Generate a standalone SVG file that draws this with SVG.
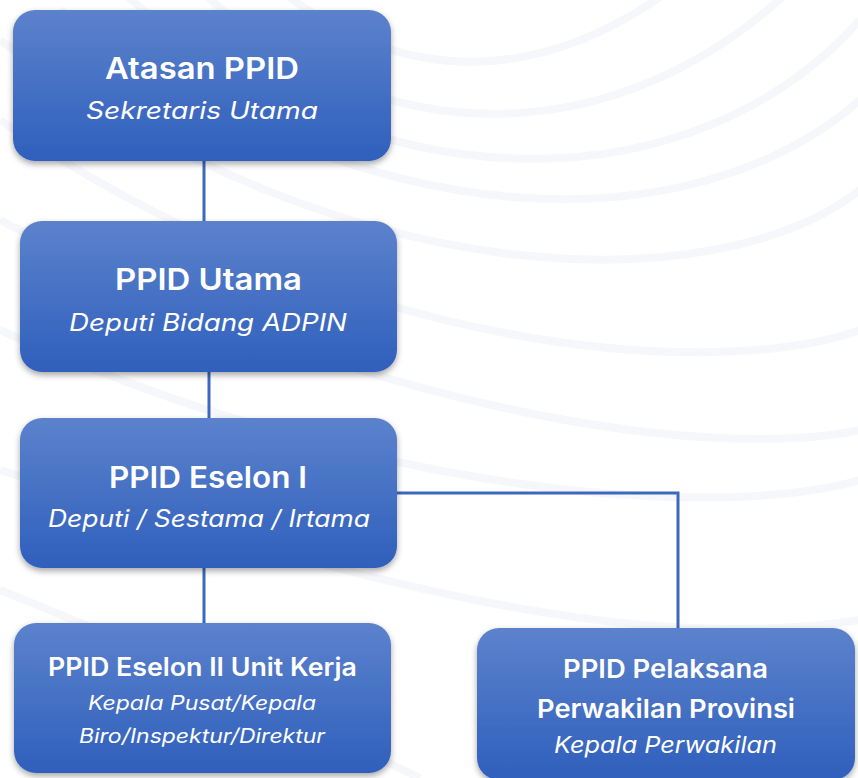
<svg xmlns="http://www.w3.org/2000/svg" width="858" height="778" viewBox="0 0 858 778">
<defs>
<linearGradient id="boxGrad" x1="0" y1="0" x2="0" y2="1">
<stop offset="0" stop-color="#5c82cc"/>
<stop offset="1" stop-color="#2f5fbc"/>
</linearGradient>
<filter id="shadow" x="-10%" y="-10%" width="120%" height="130%">
<feDropShadow dx="0" dy="3" stdDeviation="3" flood-color="#000" flood-opacity="0.35"/>
</filter>
<style>
.box{fill:url(#boxGrad);filter:url(#shadow);}
.title{font-family:Inter,"Open Sans","Liberation Sans",sans-serif;font-weight:600;fill:#fff;text-anchor:middle;}
.sub{font-family:Inter,"Open Sans","Liberation Sans",sans-serif;font-style:italic;font-weight:400;fill:#fff;text-anchor:middle;}
.conn{stroke:#3d68c0;stroke-width:3;fill:none;}
.bg{stroke:#f6f7fa;stroke-width:8;fill:none;}
</style>
</defs>
<rect width="858" height="778" fill="#fff"/>
<g id="background">
<path class="bg" d="M280,-10 C420,100 560,70 670,-10"/>
<path class="bg" d="M200,-10 C380,160 620,150 790,-10"/>
<path class="bg" d="M120,-10 C380,220 700,200 860,20"/>
<path class="bg" d="M60,10 C380,250 700,240 860,100"/>
<path class="bg" d="M0,40 C350,300 720,300 860,190"/>
<path class="bg" d="M0,120 C350,360 720,380 860,330"/>
<path class="bg" d="M0,220 C380,420 720,460 860,430"/>
<path class="bg" d="M0,330 C380,500 720,520 860,480"/>
<path class="bg" d="M0,470 C300,560 600,660 860,620"/>
<path class="bg" d="M0,590 C150,650 300,720 420,778"/>
</g>
<g id="connectors">
<line class="conn" x1="204" y1="160" x2="204" y2="222"/>
<line class="conn" x1="209" y1="371" x2="209" y2="419"/>
<line class="conn" x1="204" y1="567" x2="204" y2="624"/>
<polyline class="conn" points="396,493 678,493 678,629"/>
</g>
<g id="atasan-ppid">
<rect class="box" x="13" y="10" width="378" height="151" rx="22"/>
<text class="title" x="202" y="79" font-size="30" textLength="194" lengthAdjust="spacingAndGlyphs">Atasan PPID</text>
<text class="sub" x="202" y="119" font-size="24" textLength="232" lengthAdjust="spacingAndGlyphs">Sekretaris Utama</text>
</g>
<g id="ppid-utama">
<rect class="box" x="20" y="221" width="377" height="151" rx="22"/>
<text class="title" x="208.5" y="290" font-size="30" textLength="187" lengthAdjust="spacingAndGlyphs">PPID Utama</text>
<text class="sub" x="208" y="331" font-size="24" textLength="278" lengthAdjust="spacingAndGlyphs">Deputi Bidang ADPIN</text>
</g>
<g id="ppid-eselon-1">
<rect class="box" x="20" y="418" width="377" height="150" rx="22"/>
<text class="title" x="208" y="488" font-size="30" textLength="198" lengthAdjust="spacingAndGlyphs">PPID Eselon I</text>
<text class="sub" x="209" y="527" font-size="24" textLength="322" lengthAdjust="spacingAndGlyphs">Deputi / Sestama / Irtama</text>
</g>
<g id="ppid-eselon-2">
<rect class="box" x="14" y="623" width="377" height="150" rx="22"/>
<text class="title" x="202.5" y="676" font-size="25" textLength="309" lengthAdjust="spacingAndGlyphs">PPID Eselon II Unit Kerja</text>
<text class="sub" x="202" y="710" font-size="20" textLength="228" lengthAdjust="spacingAndGlyphs">Kepala Pusat/Kepala</text>
<text class="sub" x="202" y="743" font-size="20" textLength="246" lengthAdjust="spacingAndGlyphs">Biro/Inspektur/Direktur</text>
</g>
<g id="ppid-pelaksana">
<rect class="box" x="477" y="628" width="378" height="152" rx="22"/>
<text class="title" x="665.5" y="678" font-size="26" textLength="205" lengthAdjust="spacingAndGlyphs">PPID Pelaksana</text>
<text class="title" x="666" y="718" font-size="26" textLength="258" lengthAdjust="spacingAndGlyphs">Perwakilan Provinsi</text>
<text class="sub" x="665.5" y="753" font-size="23" textLength="223" lengthAdjust="spacingAndGlyphs">Kepala Perwakilan</text>
</g>
</svg>
